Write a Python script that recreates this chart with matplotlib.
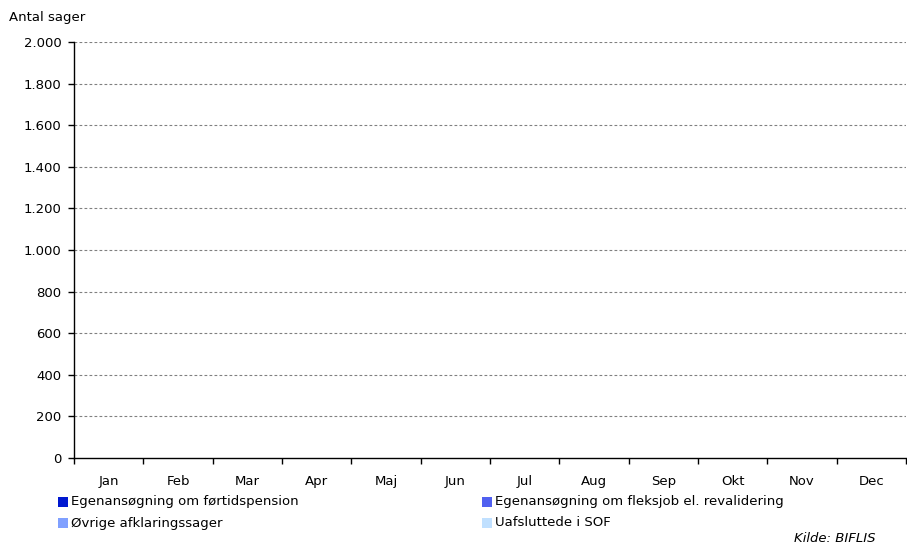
import matplotlib

matplotlib.use("Agg")
import matplotlib.patches as mpatches
import matplotlib.pyplot as plt
from matplotlib.ticker import FixedLocator, FuncFormatter

# the original uses a widely tracked Helvetica-like face; DejaVu is wider and closer in width
plt.rcParams["font.family"] = ["DejaVu Sans"]
FS = 9.5

# Data (the reference chart has no bars drawn: all values are empty)
months = ["Jan", "Feb", "Mar", "Apr", "Maj", "Jun", "Jul", "Aug", "Sep", "Okt", "Nov", "Dec"]
series_names = [
    "Egenansøgning om førtidspension",
    "Egenansøgning om fleksjob el. revalidering",
    "Øvrige afklaringssager",
    "Uafsluttede i SOF",
]
fortidspension = [0, 0, 0, 0, 0, 0, 0, 0, 0, 0, 0, 0]
fleksjob = [0, 0, 0, 0, 0, 0, 0, 0, 0, 0, 0, 0]
ovrige = [0, 0, 0, 0, 0, 0, 0, 0, 0, 0, 0, 0]
uafsluttede = [0, 0, 0, 0, 0, 0, 0, 0, 0, 0, 0, 0]
y_ticks = [0, 200, 400, 600, 800, 1000, 1200, 1400, 1600, 1800, 2000]

colors = ["#0018d0", "#5060f0", "#80a0ff", "#c0e0ff"]

fig = plt.figure(figsize=(9.07, 5.46), dpi=100, facecolor="white")
ax = fig.add_axes([74 / 907, 88 / 546, 832 / 907, 416 / 546])

x = list(range(len(months)))
bottom = [0] * len(months)
for vals, name, col in zip([fortidspension, fleksjob, ovrige, uafsluttede], series_names, colors):
    ax.bar(x, vals, bottom=bottom, width=0.6, color=col, label=name)
    bottom = [b + v for b, v in zip(bottom, vals)]

ax.set_xlim(-0.5, len(months) - 0.5)
ax.set_ylim(0, 2000)

# y axis
ax.yaxis.set_major_locator(FixedLocator(y_ticks))
ax.yaxis.set_major_formatter(FuncFormatter(lambda v, p: f"{int(v):,}".replace(",", ".")))
ax.tick_params(axis="y", length=4, width=1, pad=5, labelsize=FS)
for v in y_ticks[1:]:
    ax.axhline(v, color="#808080", linewidth=0.8, linestyle=(0, (2.5, 2)), zorder=0)

# x axis: ticks between months, labels centered
ax.set_xticks([i - 0.5 for i in range(len(months) + 1)])
ax.set_xticklabels([])
ax.set_xticks(x, minor=True)
ax.set_xticklabels(months, minor=True)
ax.tick_params(axis="x", which="major", length=4, width=1)
ax.tick_params(axis="x", which="minor", length=0, pad=12.5, labelsize=FS)

for s in ["top", "right"]:
    ax.spines[s].set_visible(False)
ax.spines["left"].set_linewidth(1)
ax.spines["bottom"].set_linewidth(1)

fig.text(9 / 907, 1 - 17 / 546, "Antal sager", fontsize=FS, va="center", ha="left")

# legend drawn by hand, two rows of two
leg_pos = [(58, 502), (482, 502), (58, 523), (482, 523)]
for (px, py), name, col in zip(leg_pos, series_names, colors):
    fig.patches.append(
        mpatches.Rectangle(
            (px / 907, 1 - (py + 5) / 546), 10 / 907, 10 / 546,
            facecolor=col, edgecolor="none", transform=fig.transFigure,
        )
    )
    fig.text((px + 13) / 907, 1 - py / 546, name, fontsize=FS, va="center", ha="left")

fig.text(876 / 907, 1 - 539 / 546, "Kilde: BIFLIS", fontsize=FS, style="italic",
         va="center", ha="right")

plt.savefig("out.png", dpi=100, facecolor="white")
plt.close()
